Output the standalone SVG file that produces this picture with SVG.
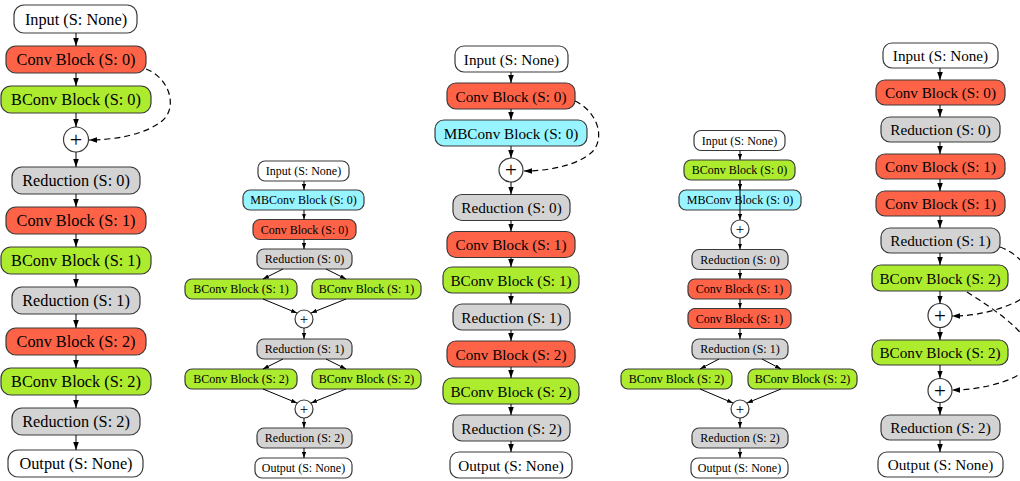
<svg xmlns="http://www.w3.org/2000/svg" width="1020" height="481" viewBox="0 0 1020 481">
<defs>
<marker id="ab" viewBox="0 0 10 7" refX="10" refY="3.5" markerUnits="userSpaceOnUse" markerWidth="8" markerHeight="6" orient="auto"><path d="M0,0 L10,3.5 L0,7 z" fill="#000"/></marker>
<marker id="as" viewBox="0 0 10 7" refX="10" refY="3.5" markerUnits="userSpaceOnUse" markerWidth="6" markerHeight="4.5" orient="auto"><path d="M0,0 L10,3.5 L0,7 z" fill="#000"/></marker>
<style>
rect{stroke:#3a3a3a;stroke-width:1.2}
circle{fill:#fff;stroke:#3a3a3a;stroke-width:1.2}
.w{fill:#fff}.r{fill:#ff6347}.g{fill:#adeb2f}.c{fill:#98f5ff}.y{fill:#d3d3d3}
text{font-family:'Liberation Serif','DejaVu Serif','Times New Roman',serif;text-anchor:middle;dominant-baseline:central;fill:#000}
.t16{font-size:16.3px}.t15{font-size:15.2px}.t12{font-size:12px}
.p16{font-size:22px}.p15{font-size:21px}.p12{font-size:15px}
.e{fill:none;stroke:#000;stroke-width:1}
.big{marker-end:url(#ab)}.sm{marker-end:url(#as)}
.d{fill:none;stroke:#000;stroke-width:1.2;stroke-dasharray:6 4;marker-end:url(#ab)}
</style>
</defs>
<g font-family="Liberation Serif, DejaVu Serif, serif">

<!-- Column 1 -->
<g id="c1_input"><rect class="w" x="14" y="5" width="123" height="28" rx="10"/><text class="t16" x="76" y="19">Input (S: None)</text></g>
<g id="c1_conv0"><rect class="r" x="6" y="46" width="140" height="27" rx="10"/><text class="t16" x="76" y="59.5">Conv Block (S: 0)</text></g>
<g id="c1_bconv0"><rect class="g" x="1" y="86" width="150" height="27" rx="10"/><text class="t16" x="76" y="99.5">BConv Block (S: 0)</text></g>
<g id="c1_add0"><circle cx="76" cy="139.5" r="12.5"/><text class="p16" x="76" y="139.5">+</text></g>
<g id="c1_red0"><rect class="y" x="12" y="167" width="128" height="27" rx="10"/><text class="t16" x="76" y="180.5">Reduction (S: 0)</text></g>
<g id="c1_conv1"><rect class="r" x="6" y="207" width="140" height="27" rx="10"/><text class="t16" x="76" y="220.5">Conv Block (S: 1)</text></g>
<g id="c1_bconv1"><rect class="g" x="1" y="247" width="150" height="27" rx="10"/><text class="t16" x="76" y="260.5">BConv Block (S: 1)</text></g>
<g id="c1_red1"><rect class="y" x="12" y="287" width="128" height="27" rx="10"/><text class="t16" x="76" y="300.5">Reduction (S: 1)</text></g>
<g id="c1_conv2"><rect class="r" x="6" y="328" width="140" height="27" rx="10"/><text class="t16" x="76" y="341.5">Conv Block (S: 2)</text></g>
<g id="c1_bconv2"><rect class="g" x="1" y="368" width="150" height="27" rx="10"/><text class="t16" x="76" y="381.5">BConv Block (S: 2)</text></g>
<g id="c1_red2"><rect class="y" x="12" y="408" width="128" height="27" rx="10"/><text class="t16" x="76" y="421.5">Reduction (S: 2)</text></g>
<g id="c1_output"><rect class="w" x="8" y="450" width="135" height="27" rx="10"/><text class="t16" x="76" y="463.5">Output (S: None)</text></g>

<!-- Column 2 -->
<g id="c2_input"><rect class="w" x="258" y="161" width="91" height="20" rx="7"/><text class="t12" x="303.5" y="171">Input (S: None)</text></g>
<g id="c2_mbconv0"><rect class="c" x="243" y="190" width="121" height="20" rx="7"/><text class="t12" x="303.5" y="200">MBConv Block (S: 0)</text></g>
<g id="c2_conv0"><rect class="r" x="253" y="219.5" width="103" height="20" rx="7"/><text class="t12" x="304.5" y="229.5">Conv Block (S: 0)</text></g>
<g id="c2_red0"><rect class="y" x="257" y="249" width="95" height="20" rx="7"/><text class="t12" x="304.5" y="259">Reduction (S: 0)</text></g>
<g id="c2_bconv1a"><rect class="g" x="185" y="279" width="112" height="20" rx="7"/><text class="t12" x="241" y="289">BConv Block (S: 1)</text></g>
<g id="c2_bconv1b"><rect class="g" x="312" y="279" width="109" height="20" rx="7"/><text class="t12" x="366.5" y="289">BConv Block (S: 1)</text></g>
<g id="c2_add1"><circle cx="304" cy="319" r="9"/><text class="p12" x="304" y="319">+</text></g>
<g id="c2_red1"><rect class="y" x="257" y="339" width="95" height="20" rx="7"/><text class="t12" x="304.5" y="349">Reduction (S: 1)</text></g>
<g id="c2_bconv2a"><rect class="g" x="185" y="369" width="112" height="20" rx="7"/><text class="t12" x="241" y="379">BConv Block (S: 2)</text></g>
<g id="c2_bconv2b"><rect class="g" x="312" y="369" width="109" height="20" rx="7"/><text class="t12" x="366.5" y="379">BConv Block (S: 2)</text></g>
<g id="c2_add2"><circle cx="304" cy="409" r="9"/><text class="p12" x="304" y="409">+</text></g>
<g id="c2_red2"><rect class="y" x="257" y="428" width="95" height="20" rx="7"/><text class="t12" x="304.5" y="438">Reduction (S: 2)</text></g>
<g id="c2_output"><rect class="w" x="255" y="458" width="97" height="20" rx="7"/><text class="t12" x="303.5" y="468">Output (S: None)</text></g>

<!-- Column 3 -->
<g id="c3_input"><rect class="w" x="455" y="46" width="113" height="26" rx="9"/><text class="t15" x="511.5" y="59">Input (S: None)</text></g>
<g id="c3_conv0"><rect class="r" x="447" y="83" width="128" height="26" rx="9"/><text class="t15" x="511" y="96">Conv Block (S: 0)</text></g>
<g id="c3_mbconv0"><rect class="c" x="435" y="120" width="152" height="26" rx="9"/><text class="t15" x="511" y="133">MBConv Block (S: 0)</text></g>
<g id="c3_add0"><circle cx="511" cy="170" r="12"/><text class="p15" x="511" y="170">+</text></g>
<g id="c3_red0"><rect class="y" x="453" y="194.5" width="117" height="26" rx="9"/><text class="t15" x="511.5" y="207.5">Reduction (S: 0)</text></g>
<g id="c3_conv1"><rect class="r" x="447" y="231.5" width="128" height="26" rx="9"/><text class="t15" x="511" y="244.5">Conv Block (S: 1)</text></g>
<g id="c3_bconv1"><rect class="g" x="443" y="267" width="136" height="26" rx="9"/><text class="t15" x="511" y="280">BConv Block (S: 1)</text></g>
<g id="c3_red1"><rect class="y" x="453" y="304" width="117" height="26" rx="9"/><text class="t15" x="511.5" y="317">Reduction (S: 1)</text></g>
<g id="c3_conv2"><rect class="r" x="447" y="341" width="128" height="26" rx="9"/><text class="t15" x="511" y="354">Conv Block (S: 2)</text></g>
<g id="c3_bconv2"><rect class="g" x="443" y="378" width="136" height="26" rx="9"/><text class="t15" x="511" y="391">BConv Block (S: 2)</text></g>
<g id="c3_red2"><rect class="y" x="453" y="415" width="117" height="26" rx="9"/><text class="t15" x="511.5" y="428">Reduction (S: 2)</text></g>
<g id="c3_output"><rect class="w" x="450" y="452" width="122" height="26" rx="9"/><text class="t15" x="511" y="465">Output (S: None)</text></g>

<!-- Column 4 -->
<g id="c4_input"><rect class="w" x="694" y="130.5" width="91" height="20" rx="7"/><text class="t12" x="739.5" y="140.5">Input (S: None)</text></g>
<g id="c4_bconv0"><rect class="g" x="684" y="160" width="111" height="20" rx="7"/><text class="t12" x="739.5" y="170">BConv Block (S: 0)</text></g>
<g id="c4_mbconv0"><rect class="c" x="679" y="190" width="122" height="20" rx="7"/><text class="t12" x="740" y="200">MBConv Block (S: 0)</text></g>
<g id="c4_add0"><circle cx="740" cy="229" r="9"/><text class="p12" x="740" y="229">+</text></g>
<g id="c4_red0"><rect class="y" x="692" y="249.5" width="96" height="20" rx="7"/><text class="t12" x="740" y="259.5">Reduction (S: 0)</text></g>
<g id="c4_conv1a"><rect class="r" x="688" y="279" width="103" height="20" rx="7"/><text class="t12" x="739.5" y="289">Conv Block (S: 1)</text></g>
<g id="c4_conv1b"><rect class="r" x="688" y="308.5" width="103" height="20" rx="7"/><text class="t12" x="739.5" y="318.5">Conv Block (S: 1)</text></g>
<g id="c4_red1"><rect class="y" x="692" y="339" width="96" height="20" rx="7"/><text class="t12" x="740" y="349">Reduction (S: 1)</text></g>
<g id="c4_bconv2a"><rect class="g" x="621" y="369" width="111" height="20" rx="7"/><text class="t12" x="676.5" y="379">BConv Block (S: 2)</text></g>
<g id="c4_bconv2b"><rect class="g" x="748" y="369" width="109" height="20" rx="7"/><text class="t12" x="802.5" y="379">BConv Block (S: 2)</text></g>
<g id="c4_add2"><circle cx="740" cy="409" r="9"/><text class="p12" x="740" y="409">+</text></g>
<g id="c4_red2"><rect class="y" x="692" y="428" width="96" height="20" rx="7"/><text class="t12" x="740" y="438">Reduction (S: 2)</text></g>
<g id="c4_output"><rect class="w" x="691" y="458" width="97" height="20" rx="7"/><text class="t12" x="739.5" y="468">Output (S: None)</text></g>

<!-- Column 5 -->
<g id="c5_input"><rect class="w" x="883" y="43" width="115" height="25" rx="9"/><text class="t15" x="940.5" y="55.5">Input (S: None)</text></g>
<g id="c5_conv0"><rect class="r" x="876" y="80" width="129" height="25" rx="9"/><text class="t15" x="940.5" y="92.5">Conv Block (S: 0)</text></g>
<g id="c5_red0"><rect class="y" x="881" y="117" width="119" height="25" rx="9"/><text class="t15" x="940.5" y="129.5">Reduction (S: 0)</text></g>
<g id="c5_conv1a"><rect class="r" x="876" y="154" width="129" height="25" rx="9"/><text class="t15" x="940.5" y="166.5">Conv Block (S: 1)</text></g>
<g id="c5_conv1b"><rect class="r" x="876" y="191" width="129" height="25" rx="9"/><text class="t15" x="940.5" y="203.5">Conv Block (S: 1)</text></g>
<g id="c5_red1"><rect class="y" x="881" y="228" width="119" height="25" rx="9"/><text class="t15" x="940.5" y="240.5">Reduction (S: 1)</text></g>
<g id="c5_bconv2a"><rect class="g" x="872" y="265" width="136" height="26" rx="9"/><text class="t15" x="940" y="278">BConv Block (S: 2)</text></g>
<g id="c5_add1"><circle cx="940" cy="315.5" r="12"/><text class="p15" x="940" y="315.5">+</text></g>
<g id="c5_bconv2b"><rect class="g" x="872" y="340" width="136" height="25" rx="9"/><text class="t15" x="940" y="352.5">BConv Block (S: 2)</text></g>
<g id="c5_add2"><circle cx="940" cy="390.5" r="12"/><text class="p15" x="940" y="390.5">+</text></g>
<g id="c5_red2"><rect class="y" x="881" y="415" width="119" height="25" rx="9"/><text class="t15" x="940.5" y="427.5">Reduction (S: 2)</text></g>
<g id="c5_output"><rect class="w" x="878" y="452" width="125" height="25" rx="9"/><text class="t15" x="940.5" y="464.5">Output (S: None)</text></g>
</g>

<g id="connectors">
<!-- column 1 -->
<path class="e big" d="M76,33 V46"/>
<path class="e big" d="M76,73 V86"/>
<path class="e big" d="M76,113 V127"/>
<path class="e big" d="M76,152 V167"/>
<path class="e big" d="M76,194 V207"/>
<path class="e big" d="M76,234 V247"/>
<path class="e big" d="M76,274 V287"/>
<path class="e big" d="M76,314 V328"/>
<path class="e big" d="M76,355 V368"/>
<path class="e big" d="M76,395 V408"/>
<path class="e big" d="M76,435 V450"/>
<path class="d" d="M146,69 C170,78 178,108 162,121 C146,134 116,140 89,140"/>
<!-- column 2 -->
<path class="e sm" d="M304,181 V190"/>
<path class="e sm" d="M304,210 V219.5"/>
<path class="e sm" d="M304,239.5 V249"/>
<path class="e sm" d="M283,269 L263,279"/>
<path class="e sm" d="M326,269 L346,279"/>
<path class="e sm" d="M263,299 L297,313"/>
<path class="e sm" d="M346,299 L311,313"/>
<path class="e sm" d="M304,328 V339"/>
<path class="e sm" d="M283,359 L263,369"/>
<path class="e sm" d="M326,359 L346,369"/>
<path class="e sm" d="M263,389 L297,403"/>
<path class="e sm" d="M346,389 L311,403"/>
<path class="e sm" d="M304,418 V428"/>
<path class="e sm" d="M304,448 V458"/>
<!-- column 3 -->
<path class="e big" d="M511,72 V83"/>
<path class="e big" d="M511,109 V120"/>
<path class="e big" d="M511,146 V158"/>
<path class="e big" d="M511,182 V194.5"/>
<path class="e big" d="M511,220.5 V231.5"/>
<path class="e big" d="M511,257.5 V267"/>
<path class="e big" d="M511,293 V304"/>
<path class="e big" d="M511,330 V341"/>
<path class="e big" d="M511,367 V378"/>
<path class="e big" d="M511,404 V415"/>
<path class="e big" d="M511,441 V452"/>
<path class="d" d="M575,101 C597,111 606,138 592,152 C578,165 550,171 524,171"/>
<!-- column 4 -->
<path class="e sm" d="M740,150.5 V160"/>
<path class="e sm" d="M740,180 V190"/>
<path class="e sm" d="M740,180 V220"/>
<path class="e sm" d="M740,238 V249.5"/>
<path class="e sm" d="M740,269.5 V279"/>
<path class="e sm" d="M740,299 V308.5"/>
<path class="e sm" d="M740,328.5 V339"/>
<path class="e sm" d="M719,359 L700,369"/>
<path class="e sm" d="M762,359 L781,369"/>
<path class="e sm" d="M700,389 L733,403"/>
<path class="e sm" d="M781,389 L747,403"/>
<path class="e sm" d="M740,418 V428"/>
<path class="e sm" d="M740,448 V458"/>
<!-- column 5 -->
<path class="e big" d="M940,68 V80"/>
<path class="e big" d="M940,105 V117"/>
<path class="e big" d="M940,142 V154"/>
<path class="e big" d="M940,179 V191"/>
<path class="e big" d="M940,216 V228"/>
<path class="e big" d="M940,253 V265"/>
<path class="e big" d="M940,291 V303.5"/>
<path class="e big" d="M940,327.5 V340"/>
<path class="e big" d="M940,365 V378.5"/>
<path class="e big" d="M940,402.5 V415"/>
<path class="e big" d="M940,440 V452"/>
<path class="d" d="M1000,247 C1030,258 1042,290 1016,302 C996,311 976,316 952,316"/>
<path class="d" d="M967,292 C1000,313 1036,338 1032,360 C1028,378 986,390 952,390"/>
</g>
</svg>
